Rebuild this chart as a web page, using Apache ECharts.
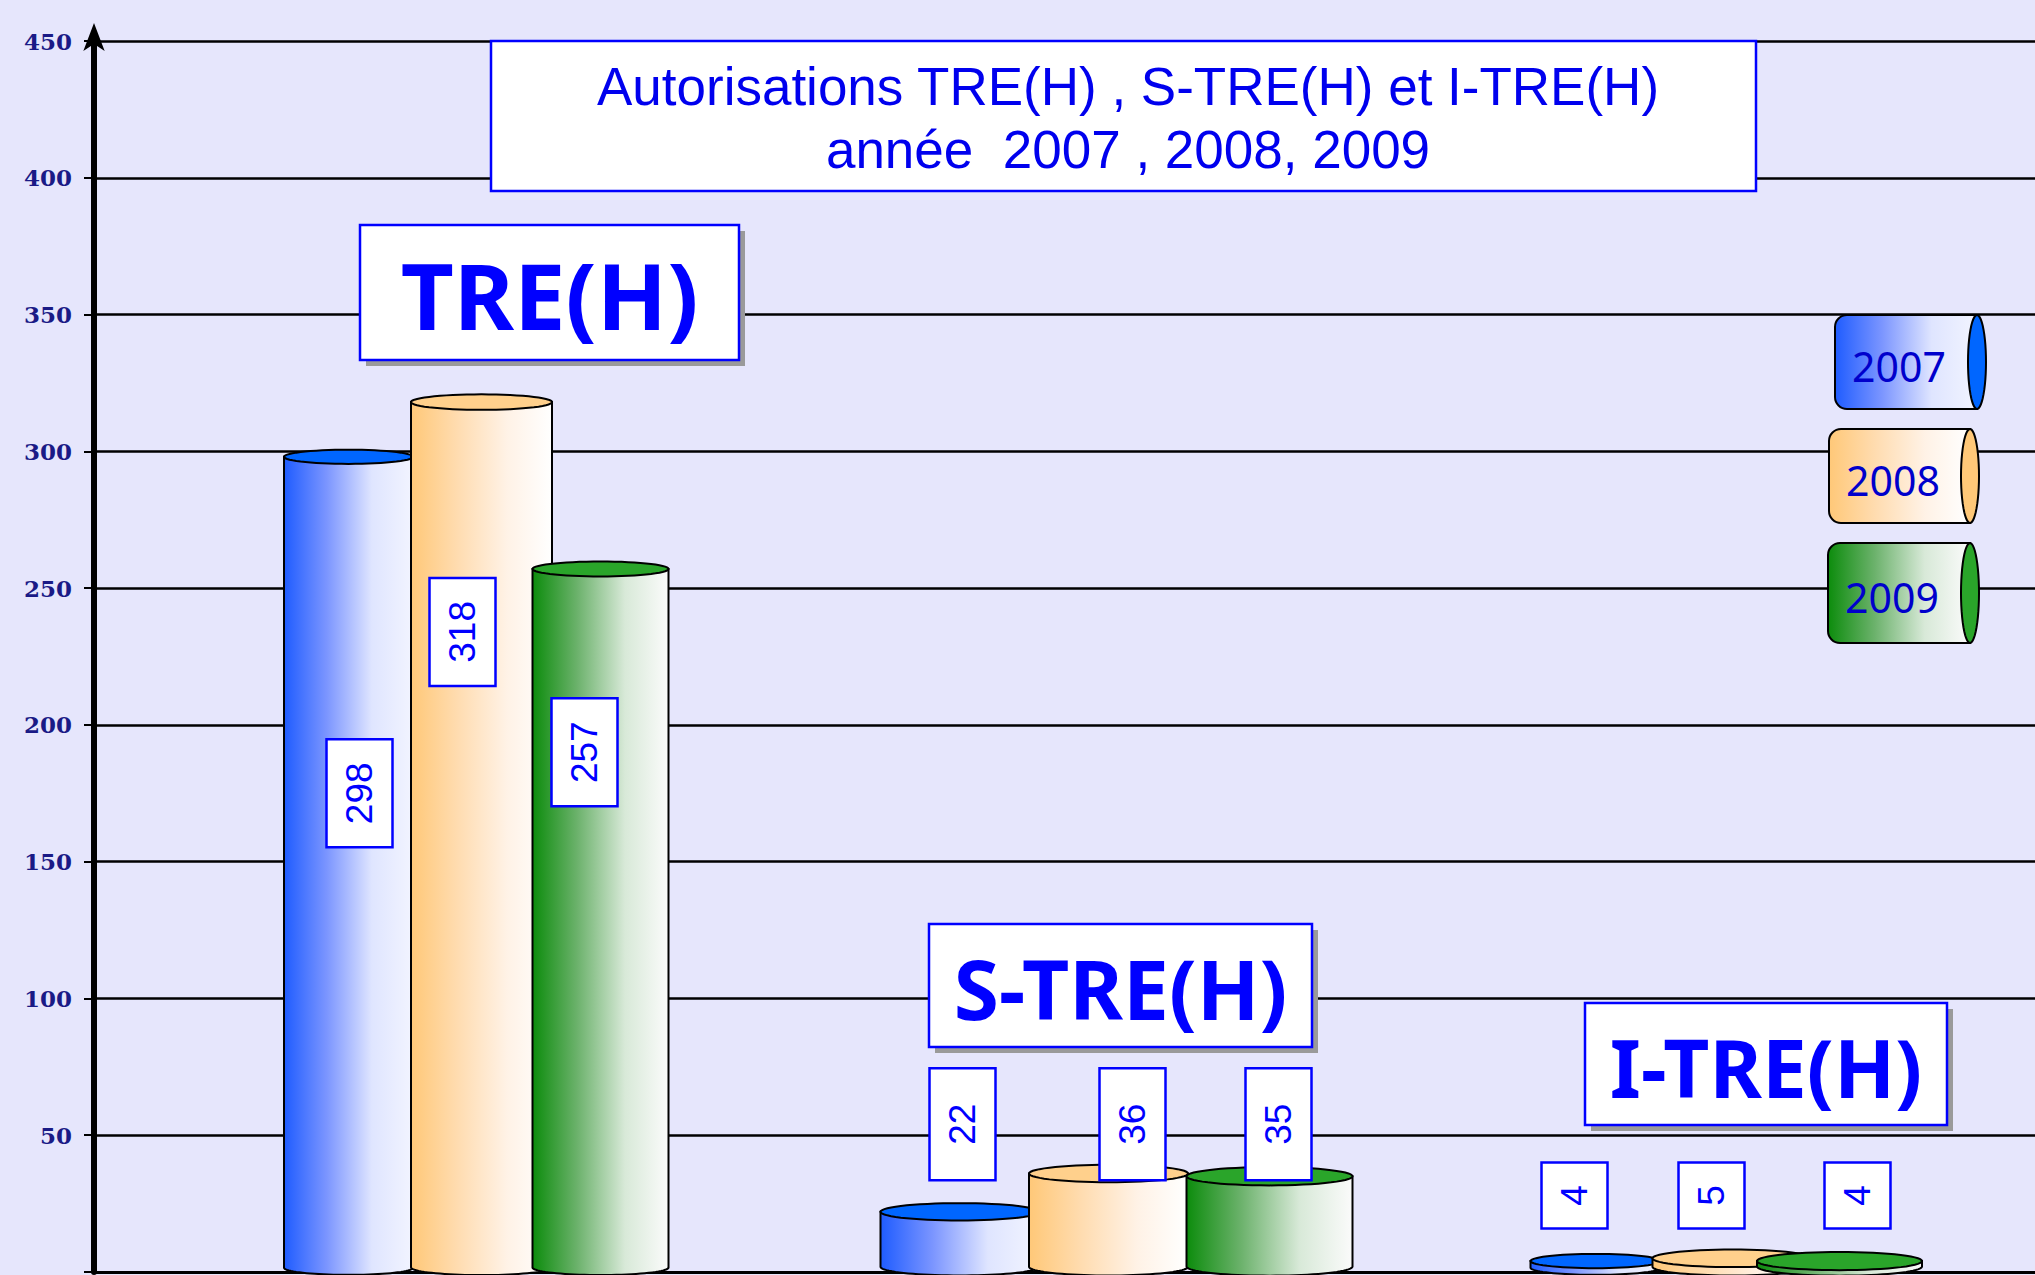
<!DOCTYPE html>
<html>
<head>
<meta charset="utf-8">
<title>Autorisations TRE(H), S-TRE(H) et I-TRE(H)</title>
<script src="https://cdn.jsdelivr.net/npm/echarts@6/dist/echarts.min.js"></script>
<style>
  html, body { margin: 0; padding: 0; background: #e6e6fc; }
  #chart { width: 2035px; height: 1275px; }
</style>
</head>
<body>
<div id="chart"></div>
<script>
// data
const categories = ['TRE(H)', 'S-TRE(H)', 'I-TRE(H)'];
const years = ['2007', '2008', '2009'];
const values2007 = [298, 22, 4];
const values2008 = [318, 36, 5];
const values2009 = [257, 35, 4];
const seriesValues = [values2007, values2008, values2009];

// layout (px offsets from the category centre, per category then per year)
const barOffset = [[-69, 64, 183], [-105, 44, 205], [-116, 21, 128]];
const barWidth = [[129, 141, 136], [158, 159, 166], [130, 160, 165]];
const labelOffset = [[-58, 45, 167], [-102, 68, 214], [-137, 0, 146]];
const labelAt = [[175, 234, 190], [54, 54, 54], [28, 28, 28]]; // axis value where the value box sits
const labelBoxH = [108, 112, 66];

const nameBox = [
  { x: 360, y: 225, w: 379, h: 135, size: 92 },
  { x: 929, y: 924, w: 383, h: 123, size: 82 },
  { x: 1585, y: 1003, w: 362, h: 122, size: 80 }
];
const legendBox = [
  { x: 1835, y: 315, w: 142, h: 94 },
  { x: 1829, y: 429, w: 141, h: 94 },
  { x: 1828, y: 543, w: 142, h: 100 }
];

const yearColors = [
  { stops: ['#1f5cff', '#7b95ff', '#dfe5ff', '#f2f4ff'], top: '#0066ff' },
  { stops: ['#ffc878', '#ffdcb0', '#fff2e6', '#ffffff'], top: '#ffd08c' },
  { stops: ['#0c8c0c', '#6cb26c', '#d8e9d8', '#fbfbfb'], top: '#2aa52a' }
];

function grad(c) {
  return {
    type: 'linear', x: 0, y: 0, x2: 1, y2: 0,
    colorStops: [
      { offset: 0, color: c.stops[0] },
      { offset: 0.33, color: c.stops[1] },
      { offset: 0.68, color: c.stops[2] },
      { offset: 1, color: c.stops[3] }
    ]
  };
}

function ellipsePts(cx, cy, rx, ry, from, to, n) {
  const pts = [];
  for (let i = 0; i <= n; i++) {
    const a = from + (to - from) * i / n;
    pts.push([cx + rx * Math.cos(a), cy + ry * Math.sin(a)]);
  }
  return pts;
}

// one cylinder + its value box
function cylinder(yi) {
  return function (params, api) {
    const cat = api.value(0);
    const val = api.value(1);
    const c0 = api.coord([cat, 0]);
    const c1 = api.coord([cat, val]);
    const w = barWidth[cat][yi];
    const cx = c0[0] + barOffset[cat][yi];
    const rx = w / 2;
    const ry = Math.max(7, w * 0.055);
    const yBase = c0[1] - ry * 0.6;
    const yTop = Math.min(c1[1], yBase);
    const x0 = cx - rx, x1 = cx + rx;

    const body = [[x0, yTop], [x0, yBase]]
      .concat(ellipsePts(cx, yBase, rx, ry, Math.PI, 0, 40))
      .concat([[x1, yTop]]);

    const lx = c0[0] + labelOffset[cat][yi];
    const ly = api.coord([cat, labelAt[cat][yi]])[1];
    const bh = labelBoxH[cat];

    return {
      type: 'group',
      children: [
        { type: 'polygon', shape: { points: body },
          style: { fill: grad(yearColors[yi]), stroke: '#000', lineWidth: 2 } },
        { type: 'polygon', shape: { points: ellipsePts(cx, yTop, rx, ry, 0, Math.PI * 2, 60) },
          style: { fill: yearColors[yi].top, stroke: '#000', lineWidth: 2 } },
        { type: 'rect', shape: { x: lx - 33, y: ly - bh / 2, width: 66, height: bh },
          style: { fill: '#fff', stroke: '#0000ff', lineWidth: 2.5 } },
        { type: 'text', x: lx, y: ly, rotation: Math.PI / 2,
          style: { text: String(val), fill: '#0000ff', font: '37px "Liberation Sans", sans-serif',
            textAlign: 'center', textVerticalAlign: 'middle' } }
      ]
    };
  };
}

const graphics = [];
// title frame
graphics.push({ type: 'rect', z: 5, shape: { x: 491, y: 41, width: 1265, height: 150 },
  style: { fill: '#fff', stroke: '#0000ff', lineWidth: 2.5 } });

// category name boxes
categories.forEach(function (name, i) {
  const b = nameBox[i];
  graphics.push({ type: 'rect', z: 8, shape: { x: b.x + 6, y: b.y + 6, width: b.w, height: b.h },
    style: { fill: '#9a9a9a' } });
  graphics.push({ type: 'rect', z: 9, shape: { x: b.x, y: b.y, width: b.w, height: b.h },
    style: { fill: '#fff', stroke: '#0000ff', lineWidth: 2.5 } });
  graphics.push({ type: 'text', z: 10, x: b.x + b.w / 2, y: b.y + b.h / 2 + 2,
    style: { text: name, fill: '#0000ff', font: 'bold ' + b.size + 'px "Noto Sans", sans-serif',
      textAlign: 'center', textVerticalAlign: 'middle',
      shadowColor: '#a8a8a8', shadowOffsetX: 5, shadowOffsetY: 5, shadowBlur: 0 } });
});

// legend (horizontal cylinders)
years.forEach(function (y, i) {
  const b = legendBox[i];
  const c = yearColors[i];
  graphics.push({ type: 'rect', z: 8, shape: { x: b.x, y: b.y, width: b.w, height: b.h, r: [12, 0, 0, 12] },
    style: { fill: grad(c), stroke: '#000', lineWidth: 2 } });
  graphics.push({ type: 'polygon', z: 9,
    shape: { points: ellipsePts(b.x + b.w, b.y + b.h / 2, 9, b.h / 2, 0, Math.PI * 2, 50) },
    style: { fill: i === 1 ? '#ffc878' : c.top, stroke: '#000', lineWidth: 2 } });
  graphics.push({ type: 'text', z: 10, x: b.x + 64, y: b.y + b.h / 2 + 4,
    style: { text: y, fill: '#0000cc', font: '41px "Noto Sans", sans-serif',
      textAlign: 'center', textVerticalAlign: 'middle' } });
});

const chart = echarts.init(document.getElementById('chart'), null, { renderer: 'svg' });
chart.setOption({
  backgroundColor: '#e6e6fc',
  animation: false,
  title: {
    text: 'Autorisations TRE(H) , S-TRE(H) et I-TRE(H)\nannée  2007 , 2008, 2009',
    left: 1123,
    top: 50,
    textAlign: 'center',
    textStyle: {
      fontFamily: '"Liberation Sans", sans-serif',
      fontSize: 53,
      fontWeight: 'normal',
      color: '#0000ee',
      lineHeight: 63
    }
  },
  grid: { left: 94, right: 0, top: 41, bottom: 3 },
  xAxis: {
    type: 'category',
    data: categories,
    axisLine: { lineStyle: { color: '#000', width: 3 } },
    axisTick: { show: false },
    axisLabel: { show: false }
  },
  yAxis: {
    type: 'value',
    min: 0,
    max: 450,
    interval: 50,
    axisLine: {
      show: true,
      symbol: ['none', 'arrow'],
      symbolSize: [16, 28],
      symbolOffset: [0, 18],
      lineStyle: { color: '#000', width: 6 }
    },
    axisTick: { show: true, length: 10, lineStyle: { color: '#000', width: 2 } },
    axisLabel: {
      margin: 22,
      color: '#1a1a86',
      fontFamily: '"DejaVu Serif", serif',
      fontWeight: 'bold',
      fontSize: 23,
      formatter: function (v) { return v === 0 ? '' : v; }
    },
    splitLine: { show: true, lineStyle: { color: '#000', width: 2.5 } }
  },
  graphic: graphics,
  series: years.map(function (y, i) {
    return {
      type: 'custom',
      name: y,
      renderItem: cylinder(i),
      encode: { x: 0, y: 1 },
      clip: false,
      data: seriesValues[i].map(function (v, k) { return [k, v]; })
    };
  })
});
</script>
</body>
</html>
